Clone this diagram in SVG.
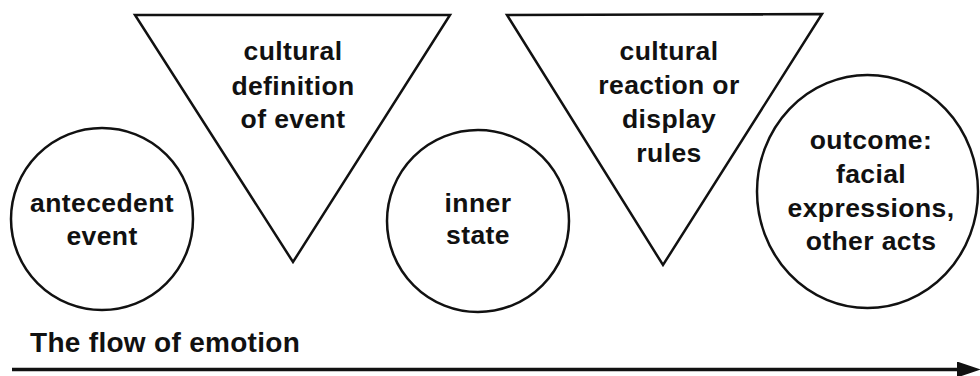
<svg xmlns="http://www.w3.org/2000/svg" width="980" height="376" viewBox="0 0 980 376">
<style>
.shape{fill:none;stroke:#111;stroke-width:2.5;stroke-linejoin:miter}
.lbl{font-family:"Liberation Sans",Arial,sans-serif;font-weight:bold;font-size:26.5px;letter-spacing:0.4px;fill:#111;text-anchor:middle}
.cap{font-family:"Liberation Sans",Arial,sans-serif;font-weight:bold;font-size:28px;letter-spacing:0.3px;fill:#111}
.flow{stroke:#111;stroke-width:3.5;fill:none}
</style>
<defs>
<marker id="ah" markerWidth="24" markerHeight="16" refX="0" refY="8" orient="auto" markerUnits="userSpaceOnUse">
<path d="M0,0 L24,8 L0,16 Z" fill="#111"/>
</marker>
</defs>
<rect width="980" height="376" fill="#fff"/>
<g id="antecedent">
<circle class="shape" cx="102" cy="219" r="91"/>
<text class="lbl" x="102" y="212">antecedent</text>
<text class="lbl" x="102" y="245">event</text>
</g>
<g id="cultural-definition">
<polygon class="shape" points="135,15 450,15 293,262"/>
<text class="lbl" x="293" y="60">cultural</text>
<text class="lbl" x="293" y="95">definition</text>
<text class="lbl" x="293" y="128">of event</text>
</g>
<g id="inner-state">
<circle class="shape" cx="478" cy="221" r="91"/>
<text class="lbl" x="478" y="212">inner</text>
<text class="lbl" x="478" y="244">state</text>
</g>
<g id="cultural-reaction">
<polygon class="shape" points="507,15 822,14 663,265"/>
<text class="lbl" x="669" y="60">cultural</text>
<text class="lbl" x="669" y="94">reaction or</text>
<text class="lbl" x="669" y="128">display</text>
<text class="lbl" x="669" y="162">rules</text>
</g>
<g id="outcome">
<ellipse class="shape" cx="867.5" cy="191.5" rx="110.5" ry="116.5"/>
<text class="lbl" x="871" y="149">outcome:</text>
<text class="lbl" x="871" y="183">facial</text>
<text class="lbl" x="871" y="217">expressions,</text>
<text class="lbl" x="871" y="250">other acts</text>
</g>
<g id="connectors">
<line class="flow" x1="12" y1="369.5" x2="957" y2="369.5" marker-end="url(#ah)"/>
<text class="cap" x="30" y="352">The flow of emotion</text>
</g>
</svg>
